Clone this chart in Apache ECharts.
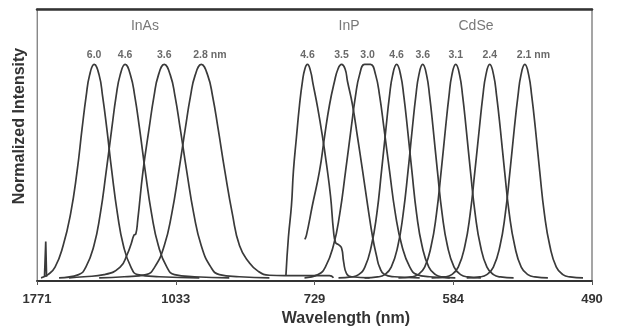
<!DOCTYPE html>
<html>
<head>
<meta charset="utf-8">
<script src="https://cdn.jsdelivr.net/npm/echarts@6/dist/echarts.min.js"></script>
<style>
  html, body { margin: 0; padding: 0; background: #fff; }
  #chart { width: 618px; height: 332px; }
</style>
</head>
<body>
<div id="chart"></div>
<script>
// Position along the wavelength axis (0..400, tick every 100) and the tick labels in nm
const tickAt = [0, 100, 200, 300, 400];
const tickLabels = ['1771', '1033', '729', '584', '490'];

// Emission spectra, [axis position, normalized intensity]
const inAs60 = [[2.9,0],[7.9,0.015],[13.0,0.05],[18.8,0.15],[24.2,0.3],[28.9,0.5],[32.5,0.7],[35.4,0.85],[37.9,0.95],[41.2,1],[44.8,0.95],[47.3,0.85],[50.3,0.7],[53.9,0.5],[58.0,0.3],[62.3,0.15],[67.7,0.05],[72.6,0.015],[88.1,0.005],[117.0,0]];
const inAs46 = [[15.9,0],[30.0,0.015],[35.2,0.05],[41.0,0.15],[45.6,0.3],[49.9,0.5],[53.9,0.7],[57.0,0.85],[59.9,0.95],[63.5,1],[67.4,0.95],[70.5,0.85],[73.9,0.7],[78.0,0.5],[82.6,0.3],[87.5,0.15],[93.6,0.05],[99.1,0.015],[113.4,0.005],[138.6,0]];
const inAs36 = [[23.1,0],[33.9,0.005],[48.4,0.015],[59.9,0.05],[65.0,0.11],[67.9,0.16],[69.9,0.2],[71.2,0.205],[72.6,0.27],[76.4,0.5],[80.8,0.7],[84.3,0.85],[87.5,0.95],[91.7,1],[96.1,0.95],[99.5,0.85],[103.2,0.7],[107.9,0.5],[113.0,0.3],[118.4,0.15],[125.3,0.05],[131.5,0.015],[145.8,0.005],[167.5,0]];
const inAs28 = [[44.8,0],[62.8,0.005],[78.6,0.015],[84.8,0.05],[91.7,0.15],[97.1,0.3],[102.2,0.5],[106.9,0.7],[110.6,0.85],[114.0,0.95],[118.4,1],[123.0,0.95],[126.6,0.85],[130.5,0.7],[135.4,0.5],[140.8,0.3],[146.0,0.15],[152.5,0.075],[159.5,0.03],[167.5,0.012],[178.3,0.01],[210.8,0.01],[213.7,0]];
const inP46 = [[179.4,0.01],[181.2,0.19],[183.4,0.34],[184.8,0.5],[187.0,0.66],[189.2,0.81],[191.3,0.92],[193.1,0.98],[194.9,1],[197.1,0.97],[198.9,0.91],[202.2,0.8],[205.8,0.66],[208.7,0.53],[211.6,0.38],[213.7,0.22],[215.2,0.165],[217.3,0.155],[219.5,0.14],[221.0,0.075],[223.1,0.02],[226.7,0.005],[239.7,0]];
const inP35 = [[193.0,0.18],[194.2,0.2],[198.5,0.34],[203.6,0.5],[207.2,0.66],[210.8,0.81],[214.4,0.92],[217.0,0.98],[219.5,1],[222.0,0.98],[223.8,0.92],[227.4,0.81],[231.0,0.66],[234.7,0.5],[238.3,0.34],[241.9,0.19],[244.8,0.1],[246.9,0.05],[250.5,0.015],[257.8,0.005],[275.8,0]];
const inP30 = [[192.8,0],[202.6,0.015],[207.8,0.05],[213.6,0.15],[218.2,0.3],[222.4,0.5],[226.4,0.7],[229.5,0.85],[232.4,0.95],[236.1,1],[238.3,1],[240.4,1],[244.1,0.95],[247.0,0.85],[250.1,0.7],[254.1,0.5],[258.3,0.3],[263.0,0.15],[268.7,0.05],[273.9,0.015],[283.0,0.005],[297.5,0]];
const cdSe46 = [[217.3,0],[226.7,0.004],[231.8,0.015],[236.3,0.05],[241.0,0.15],[244.9,0.3],[248.3,0.5],[251.5,0.7],[254.0,0.85],[256.3,0.95],[259.2,1],[262.1,0.95],[264.4,0.85],[267.0,0.7],[270.2,0.5],[273.6,0.3],[277.5,0.15],[282.4,0.05],[287.2,0.015],[292.3,0.004],[301.5,0]];
const cdSe36 = [[236.1,0],[245.5,0.004],[250.6,0.015],[255.3,0.05],[260.1,0.15],[263.9,0.3],[267.4,0.5],[270.5,0.7],[273.0,0.85],[275.2,0.95],[278.0,1],[280.8,0.95],[283.0,0.85],[285.5,0.7],[288.6,0.5],[292.0,0.3],[295.8,0.15],[300.6,0.05],[305.3,0.015],[310.5,0.004],[319.9,0]];
const cdSe31 = [[260.5,0],[269.6,0.004],[274.6,0.015],[279.4,0.05],[284.1,0.15],[287.9,0.3],[291.3,0.5],[294.4,0.7],[296.9,0.85],[299.0,0.95],[301.8,1],[304.6,0.95],[306.8,0.85],[309.3,0.7],[312.4,0.5],[315.8,0.3],[319.6,0.15],[324.3,0.05],[329.0,0.015],[334.0,0.004],[343.5,0]];
const cdSe24 = [[284.4,0],[293.8,0.004],[298.9,0.015],[303.6,0.05],[308.4,0.15],[312.2,0.3],[315.6,0.5],[318.8,0.7],[321.3,0.85],[323.5,0.95],[326.3,1],[329.1,0.95],[331.3,0.85],[333.9,0.7],[337.0,0.5],[340.4,0.3],[344.3,0.15],[349.0,0.05],[353.8,0.015],[358.9,0.004],[368.2,0]];
const cdSe21 = [[309.7,0],[319.1,0.004],[324.2,0.015],[328.9,0.05],[333.7,0.15],[337.5,0.3],[340.9,0.5],[344.0,0.7],[346.6,0.85],[348.8,0.95],[351.6,1],[354.4,0.95],[356.6,0.85],[359.2,0.7],[362.3,0.5],[365.7,0.3],[369.6,0.15],[374.3,0.05],[379.0,0.015],[384.1,0.004],[393.5,0]];
// Detector glitch at the long-wavelength end of the InAs trace
const glitch = [[5.4,0.005],[6.3,0.17],[6.9,0.005]];

// Nanocrystal diameters, one per spectrum
const spectra = [inAs60, inAs46, inAs36, inAs28, inP46, inP35, inP30, cdSe46, cdSe36, cdSe31, cdSe24, cdSe21];
const sizeLabels = ['6.0', '4.6', '3.6', '2.8 nm', '4.6', '3.5', '3.0', '4.6', '3.6', '3.1', '2.4', '2.1 nm'];

// Material names and where they sit along the axis
const materials = ['InAs', 'InP', 'CdSe'];
const materialAt = [77.8, 224.9, 316.4];

const FONT = '"Liberation Sans", Arial, sans-serif';
const INK = '#3a3a3a';
const SIZE_ROW = 1.045;
const MATERIAL_ROW = 1.18;

// Label anchor: middle of the point(s) carrying the maximum
function peakPosition(pts) {
  let maxV = -Infinity;
  pts.forEach(p => { if (p[1] > maxV) maxV = p[1]; });
  const xs = pts.filter(p => p[1] === maxV).map(p => p[0]);
  return xs.reduce((a, b) => a + b, 0) / xs.length;
}

const lineSeries = spectra.map(pts => ({
  type: 'line',
  data: pts,
  showSymbol: false,
  smooth: 0.5,
  silent: true,
  lineStyle: { color: INK, width: 1.7 }
}));

lineSeries.push({
  type: 'line',
  data: glitch,
  showSymbol: false,
  silent: true,
  lineStyle: { color: INK, width: 1.7 }
});

const sizeLabelSeries = {
  type: 'scatter',
  symbolSize: 0,
  silent: true,
  data: spectra.map((pts, i) => {
    const withUnit = sizeLabels[i].endsWith('nm');
    return {
      value: [peakPosition(pts), SIZE_ROW],
      name: sizeLabels[i],
      label: withUnit ? { align: 'left', offset: [-8, 0] } : {}
    };
  }),
  label: {
    show: true,
    position: 'inside',
    formatter: p => p.name,
    color: '#444',
    fontFamily: FONT,
    fontSize: 10.5,
    fontWeight: 'bold'
  }
};

const materialSeries = {
  type: 'scatter',
  symbolSize: 0,
  silent: true,
  data: materials.map((m, i) => ({ value: [materialAt[i], MATERIAL_ROW], name: m })),
  label: {
    show: true,
    position: 'inside',
    formatter: p => p.name,
    color: '#555',
    fontFamily: FONT,
    fontSize: 14
  }
};

const chart = echarts.init(document.getElementById('chart'), null, { renderer: 'canvas' });
chart.setOption({
  animation: false,
  backgroundColor: '#fff',
  grid: {
    left: 37, right: 26, top: 9, bottom: 50,
    show: true, borderColor: '#999', borderWidth: 1
  },
  xAxis: [{
    type: 'value',
    min: 0, max: 400, interval: 100,
    name: 'Wavelength (nm)',
    nameLocation: 'middle',
    nameGap: 30,
    nameTextStyle: { fontFamily: FONT, fontSize: 16, fontWeight: 'bold', color: '#333', padding: [0, 0, 0, 63] },
    axisLine: { show: true, onZero: false, lineStyle: { color: '#333', width: 2 } },
    axisTick: { show: true, length: 4, lineStyle: { color: '#555', width: 1 } },
    axisLabel: {
      margin: 12,
      fontFamily: FONT, fontSize: 13, fontWeight: 'bold', color: '#333',
      formatter: v => tickLabels[tickAt.indexOf(v)] || ''
    },
    splitLine: { show: false }
  }, {
    type: 'value',
    position: 'top',
    min: 0, max: 400,
    axisLine: { show: true, onZero: false, lineStyle: { color: '#333', width: 2.5 } },
    axisTick: { show: false },
    axisLabel: { show: false },
    splitLine: { show: false }
  }],
  yAxis: [{
    type: 'value',
    min: -0.015, max: 1.26,
    name: 'Normalized Intensity',
    nameLocation: 'middle',
    nameGap: 9,
    nameTextStyle: { fontFamily: FONT, fontSize: 16, fontWeight: 'bold', color: '#333', padding: [0, 0, 0, 38] },
    axisLine: { show: true, onZero: false, lineStyle: { color: '#888', width: 1 } },
    axisTick: { show: false },
    axisLabel: { show: false },
    splitLine: { show: false }
  }, {
    type: 'value',
    position: 'right',
    min: -0.015, max: 1.26,
    axisLine: { show: true, onZero: false, lineStyle: { color: '#999', width: 1.5 } },
    axisTick: { show: false },
    axisLabel: { show: false },
    splitLine: { show: false }
  }],
  series: [...lineSeries, sizeLabelSeries, materialSeries]
});
</script>
</body>
</html>
